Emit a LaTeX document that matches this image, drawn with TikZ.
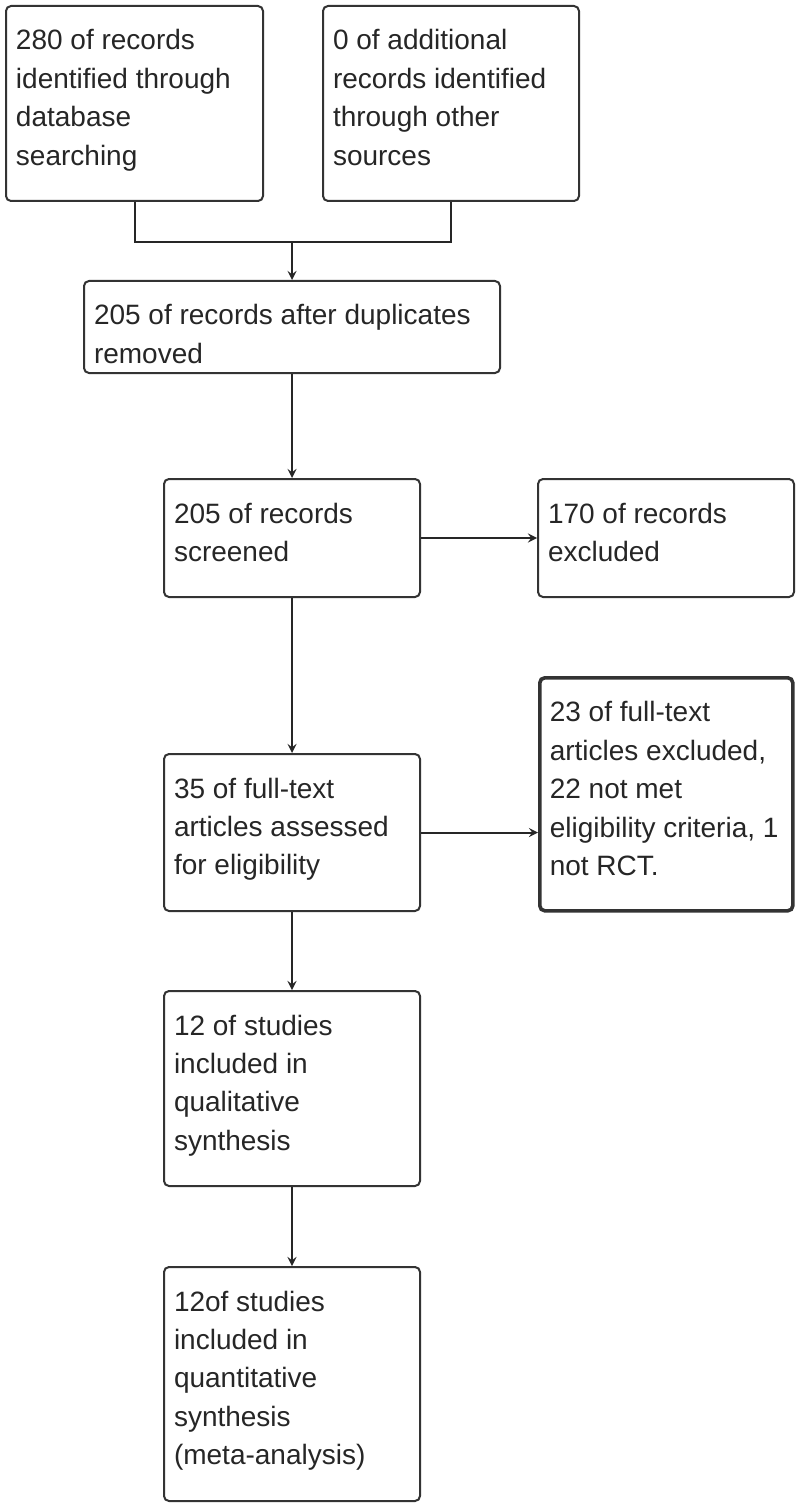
\documentclass[tikz,border=0pt]{standalone}
\usepackage{fontspec}
\setmainfont{Liberation Sans}
\usetikzlibrary{arrows.meta}

\newcommand{\boxtext}[3]{\parbox[c][#2][t]{#1}{\raggedright\fontsize{14}{19.2}\selectfont\rule{0pt}{16.5pt}#3}}

\tikzset{
  flowbox/.style={draw=black!80, line width=1pt, rounded corners=2.5pt, inner xsep=5pt, inner ysep=5.5pt, anchor=north west, text=black!85},
  flowline/.style={draw=black!85, line width=1pt},
}

\begin{document}
\begin{tikzpicture}[x=0.5pt,y=-0.5pt]
\useasboundingbox (0,0) rectangle (800,1508);

\node[flowbox] (ident) at (5,5) {\boxtext{118.5pt}{86.5pt}{280 of records\\identified through\\database\\searching}};
\node[flowbox] (other) at (322,5) {\boxtext{118pt}{86.5pt}{0 of additional\\records identified\\through other\\sources}};
\node[flowbox] (dupl) at (83,280) {\boxtext{198pt}{35pt}{205 of records after duplicates\\removed}};
\node[flowbox] (screen) at (163,478) {\boxtext{118pt}{48pt}{205 of records\\screened}};
\node[flowbox] (excl) at (537,478) {\boxtext{118pt}{48pt}{170 of records\\excluded}};
\node[flowbox] (full) at (163,753) {\boxtext{118pt}{67.5pt}{35 of full-text\\articles assessed\\for eligibility}};
\node[flowbox, line width=1.8pt] (fullexcl) at (538,676) {\boxtext{116.5pt}{105.5pt}{23 of full-text\\articles excluded,\\22 not met\\eligibility criteria, 1\\not RCT.}};
\node[flowbox] (qual) at (163,990) {\boxtext{118pt}{86.5pt}{12 of studies\\included in\\qualitative\\synthesis}};
\node[flowbox] (quant) at (163,1266) {\boxtext{118pt}{106pt}{12of studies\\included in\\quantitative\\synthesis\\(meta-analysis)}};

% merge of the two sources
\path (dupl.north) ++(0,-38) coordinate (join);
\draw[flowline] (ident.south) |- (join) -| (other.south);
\draw[flowline, -stealth] (join) -- (dupl.north);

\draw[flowline, -stealth] (dupl.south) -- (screen.north);
\draw[flowline, -stealth] (screen.east) -- (excl.west);
\draw[flowline, -stealth] (full.east) -- (full.east -| fullexcl.west);
\foreach \a/\b in {screen/full, full/qual, qual/quant}{
  \draw[flowline, -stealth] (\a.south) -- (\b.north);
}
\end{tikzpicture}
\end{document}
